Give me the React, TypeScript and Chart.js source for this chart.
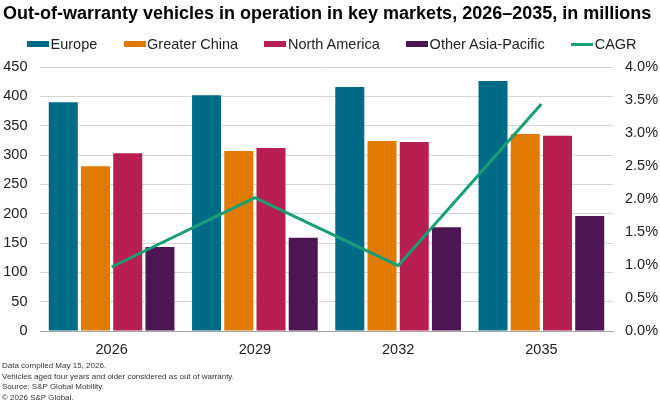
import React, { useEffect, useRef } from 'react';
import Chart from 'chart.js/auto';

// values (millions of vehicles, CAGR in %)
const years = ['2026', '2029', '2032', '2035'];
const europe = [390, 402, 416, 426];
const greaterChina = [281, 307, 324, 336];
const northAmerica = [303, 312, 322, 333];
const otherAsiaPacific = [143, 159, 177, 196];
const cagr = [0.97, 2.02, 0.99, 3.44];

const title = 'Out-of-warranty vehicles in operation in key markets, 2026\u20132035, in millions';
const footnotes = [
    'Data compiled May 15, 2026.',
    'Vehicles aged four years and older considered as out of warranty.',
    'Source: S&P Global Mobility.',
    '\u00a9 2026 S&P Global.',
];

const FONT = '"Liberation Sans", Arial, Helvetica, sans-serif';

const series = [
    { label: 'Europe', data: europe, color: '#006b86' },
    { label: 'Greater China', data: greaterChina, color: '#e07b00' },
    { label: 'North America', data: northAmerica, color: '#b81f50' },
    { label: 'Other Asia-Pacific', data: otherAsiaPacific, color: '#4e1554' },
];
const lineColor = '#17a078';

const App: React.FC = () => {
    const canvasRef = useRef<HTMLCanvasElement | null>(null);
    const chartRef = useRef<Chart | null>(null);

    useEffect(() => {
        if (!canvasRef.current) return;
        if (chartRef.current) chartRef.current.destroy();

        chartRef.current = new Chart(canvasRef.current, {
            type: 'bar',
            data: {
                labels: years,
                datasets: [
                    {
                        type: 'line',
                        label: 'CAGR',
                        data: cagr,
                        yAxisID: 'y1',
                        borderColor: lineColor,
                        backgroundColor: lineColor,
                        borderWidth: 3,
                        pointRadius: 0,
                        tension: 0,
                        order: 0,
                    },
                    ...series.map((s) => ({
                        type: 'bar' as const,
                        label: s.label,
                        data: s.data,
                        yAxisID: 'y',
                        backgroundColor: s.color,
                        borderWidth: 0,
                        categoryPercentage: 0.9,
                        barPercentage: 0.9,
                        order: 1,
                    })),
                ],
            },
            options: {
                animation: false,
                responsive: false,
                maintainAspectRatio: false,
                layout: { padding: { top: 67, left: 0, right: 0, bottom: 41 } },
                plugins: {
                    legend: { display: false },
                    tooltip: { enabled: false },
                    title: { display: false },
                },
                scales: {
                    x: {
                        grid: { display: false },
                        border: { color: '#a6a6a6', width: 1 },
                        ticks: { color: '#222', font: { family: FONT, size: 14.5 }, padding: 2 },
                        afterFit: (scale) => {
                            scale.height = 30;
                        },
                    },
                    y: {
                        position: 'left',
                        min: 0,
                        max: 450,
                        ticks: { stepSize: 50, color: '#222', font: { family: FONT, size: 14.5 }, padding: 12.5 },
                        grid: { color: '#d4d4d4', lineWidth: 1, drawTicks: false },
                        border: { display: false },
                        afterFit: (scale) => {
                            scale.width = 40;
                        },
                    },
                    y1: {
                        position: 'right',
                        min: 0,
                        max: 4,
                        ticks: {
                            stepSize: 0.5,
                            color: '#222',
                            font: { family: FONT, size: 14.5 },
                            padding: 12,
                            callback: (v) => Number(v).toFixed(1) + '%',
                        },
                        grid: { display: false, drawTicks: false },
                        border: { display: false },
                        afterFit: (scale) => {
                            scale.width = 47;
                        },
                    },
                },
            },
        });

        return () => {
            if (chartRef.current) {
                chartRef.current.destroy();
                chartRef.current = null;
            }
        };
    }, []);

    const legendItems = [
        ...series.map((s) => ({ label: s.label, color: s.color, line: false })),
        { label: 'CAGR', color: lineColor, line: true },
    ];

    return (
        <div style={{ position: 'relative', width: 660, height: 402, background: '#fff', overflow: 'hidden', fontFamily: FONT }}>
            <style>{`body{margin:0}`}</style>
            <canvas
                ref={canvasRef}
                width={660}
                height={402}
                style={{ position: 'absolute', left: 0, top: 0, width: 660, height: 402 }}
            ></canvas>
            <div
                style={{
                    position: 'absolute',
                    left: 3,
                    top: 2,
                    fontSize: 18,
                    fontWeight: 'bold',
                    color: '#000',
                    whiteSpace: 'nowrap',
                    lineHeight: '22px',
                }}
            >
                {title}
            </div>
            <div
                style={{
                    position: 'absolute',
                    left: 27,
                    top: 35,
                    display: 'flex',
                    alignItems: 'center',
                    gap: 26.3,
                    fontSize: 14.5,
                    color: '#222',
                    whiteSpace: 'nowrap',
                    lineHeight: '18px',
                }}
            >
                {legendItems.map((item) => (
                    <div key={item.label} style={{ display: 'flex', alignItems: 'center' }}>
                        <span
                            style={{
                                display: 'inline-block',
                                width: 22,
                                height: item.line ? 3 : 6,
                                background: item.color,
                                marginRight: 1.5,
                            }}
                        ></span>
                        <span>{item.label}</span>
                    </div>
                ))}
            </div>
            <div
                style={{
                    position: 'absolute',
                    left: 2,
                    top: 361,
                    fontSize: 8,
                    lineHeight: '10.5px',
                    color: '#333',
                    whiteSpace: 'nowrap',
                }}
            >
                {footnotes.map((f) => (
                    <div key={f}>{f}</div>
                ))}
            </div>
        </div>
    );
};

export default App;
